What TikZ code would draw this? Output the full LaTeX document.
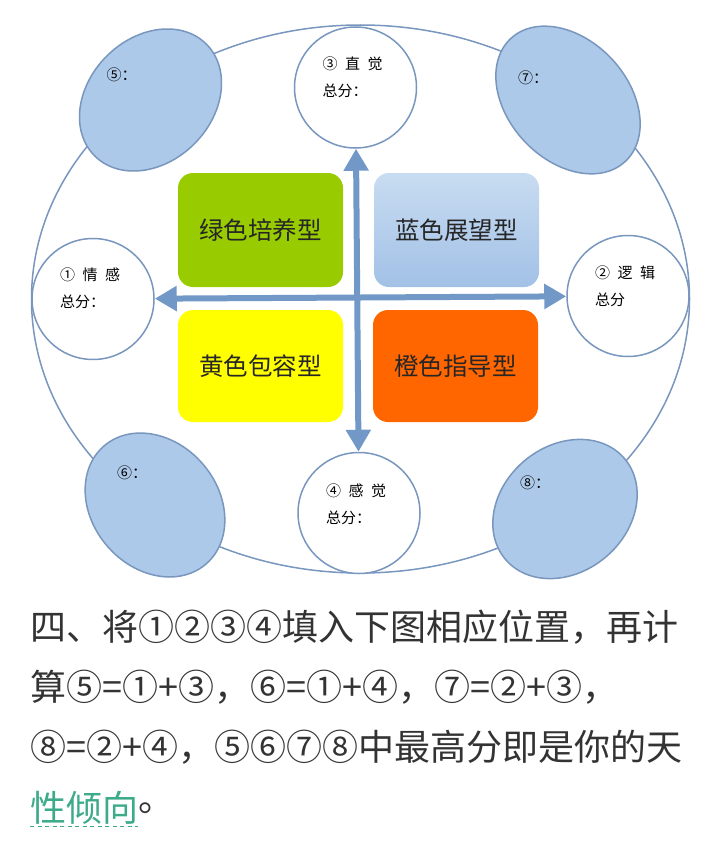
\documentclass[tikz,border=0pt]{standalone}
\usepackage{fontspec}
\setmainfont{Noto Sans CJK SC}
\usetikzlibrary{shapes.geometric,arrows.meta}
\definecolor{ringblue}{HTML}{7896BE}
\definecolor{arrowblue}{HTML}{7198C6}
\definecolor{ovalfill}{HTML}{ADC9E9}
\definecolor{tilegreen}{HTML}{99CC00}
\definecolor{tiletop}{HTML}{C8DCF1}
\definecolor{tilebot}{HTML}{A2C1E6}
\definecolor{tileyellow}{HTML}{FFFF00}
\definecolor{tileorange}{HTML}{FF6600}
\definecolor{bodygray}{HTML}{333333}
\definecolor{linkgreen}{HTML}{3DAA8A}
\begin{document}
\begin{tikzpicture}[x=1pt,y=-1pt,
  circ/.style={ellipse, draw=ringblue, line width=1.5pt, fill=white, minimum width=122pt, minimum height=121pt, inner sep=0pt},
  oval/.style={ellipse, draw=ringblue, line width=1.5pt, fill=ovalfill, inner sep=0pt},
  tile/.style={rounded corners=15pt, minimum width=165pt, minimum height=114pt, inner sep=0pt, text=black!85, font=\fontsize{24.5}{26}\selectfont},
  note/.style={anchor=west, inner sep=0pt, align=left, font=\fontsize{15}{27}\selectfont},
  bodyline/.style={anchor=west, inner sep=0pt, text=bodygray, font=\fontsize{36}{40}\selectfont},
  bigarrow/.style={{Triangle[length=22pt,width=24pt]}-{Triangle[length=22pt,width=24pt]}, line width=6pt, draw=arrowblue}]
\useasboundingbox (0,0) rectangle (720,859);
% outer ring
\draw[ringblue, line width=1.5pt] (360.5,299) ellipse (329 and 274);
% blue ovals
\node[oval, minimum width=158pt, minimum height=124pt, rotate=45] (e5) at (150.5,100){};
\node[oval, minimum width=168pt, minimum height=120pt, rotate=-47] (e7) at (568,100){};
\node[oval, minimum width=156pt, minimum height=126pt, rotate=-49] (e6) at (155,505){};
\node[oval, minimum width=156pt, minimum height=126pt, rotate=40] (e8) at (565,509){};
\node[note] (l5) at ([shift={(-44,-25)}]e5.center){⑤：};
\node[note] (l7) at ([shift={(-50,-22)}]e7.center){⑦：};
\node[note] (l6) at ([shift={(-38,-32)}]e6.center){⑥：};
\node[note] (l8) at ([shift={(-45,-26)}]e8.center){⑧：};
% white circles
\node[circ] (q1) at (93,299){};
\node[circ] (q2) at (628,296){};
\node[circ] (q3) at (355.5,87.5){};
\node[circ] (q4) at (359,513){};
\node[note] (t1) at ([shift={(-33,-11)}]q1.center){①\hspace{.5em}情\hspace{.5em}感\\总分：};
\node[note] (t2) at ([shift={(-33,-10)}]q2.center){②\hspace{.5em}逻\hspace{.5em}辑\\总分};
\node[note] (t3) at ([shift={(-33,-10)}]q3.center){③\hspace{.5em}直\hspace{.5em}觉\\总分：};
\node[note] (t4) at ([shift={(-33,-9)}]q4.center){④\hspace{.5em}感\hspace{.5em}觉\\总分：};
% axes
\draw[bigarrow] (q1) -- (q2);
\draw[bigarrow] (q3) -- (q4);
% four tiles
\node[tile, fill=tilegreen] (g) at (260.5,230){绿色培养型};
\node[tile, top color=tiletop, bottom color=tilebot] (b) at (456.5,230){蓝色展望型};
\node[tile, fill=tileyellow, minimum height=112pt] (y) at (260.5,366){黄色包容型};
\node[tile, fill=tileorange, minimum height=112pt] (o) at (455.5,366){橙色指导型};
% text below
\node[bodyline] (s1) at (30,627){四、将①②③④填入下图相应位置，再计};
\node[bodyline] (s2) at (30,687){算⑤=①+③，⑥=①+④，⑦=②+③，};
\node[bodyline] (s3) at (30,747){⑧=②+④，⑤⑥⑦⑧中最高分即是你的天};
\node[bodyline, text=linkgreen] (w4) at (30,808){性倾向};
\node[bodyline] (d4) at (w4.east){。};
\draw[linkgreen, line width=1.3pt, dash pattern=on 4pt off 3.5pt] ([yshift=-2pt]w4.south west) -- ([yshift=-2pt]w4.south east);
\end{tikzpicture}
\end{document}
